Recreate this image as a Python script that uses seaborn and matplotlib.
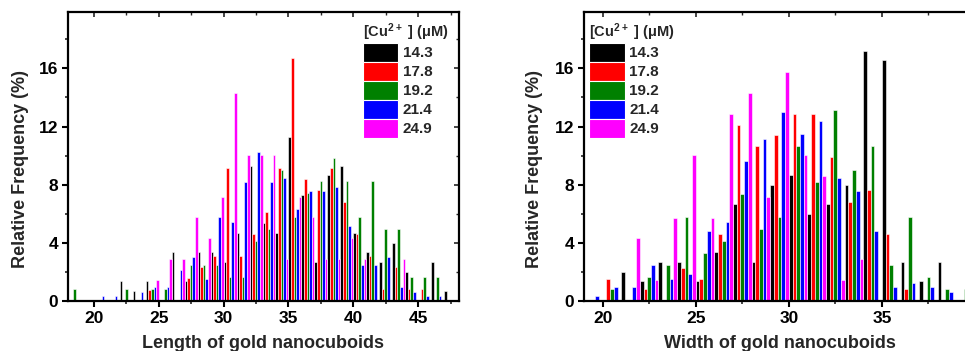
import numpy as np
import pandas as pd
import matplotlib
matplotlib.use("Agg")
import matplotlib.pyplot as plt
from matplotlib.ticker import MultipleLocator
import seaborn as sns

series = ["14.3", "17.8", "19.2", "21.4", "24.9"]
colors = ["#000000", "#ff0000", "#008000", "#0000ff", "#ff00ff"]

# ---- Length histogram (bins of width 1, lower edges 18..47) ----
length_bins = list(range(18, 48))
length_143 = [0, 0, 0, 0, 1.35, 0.67, 1.35, 0, 3.35, 1.37, 3.37, 3.37, 2.68, 4.68, 9.28,
              5.34, 4.68, 11.28, 7.31, 2.68, 8.64, 9.28, 4.68, 3.35, 2.68, 4.01, 2.02, 0, 2.68, 0.69]
length_178 = [0, 0, 0, 0, 0, 0, 0.78, 0, 0, 1.56, 2.34, 3.07, 9.13, 3.07, 4.58,
              6.10, 9.13, 16.69, 8.37, 7.61, 9.13, 6.83, 4.60, 3.07, 0.82, 2.32, 0.80, 0.80, 0, 0]
length_192 = [0.85, 0, 0, 0, 0.85, 0, 0.85, 0.85, 0, 2.47, 2.48, 2.48, 1.65, 1.65, 4.13,
              4.95, 9.03, 5.78, 7.40, 8.23, 9.86, 8.23, 5.75, 8.23, 4.95, 4.95, 1.65, 1.65, 1.65, 0]
length_214 = [0, 0, 0.32, 0.32, 0, 0.62, 0.94, 0.94, 2.13, 3.05, 1.53, 5.78, 5.43, 8.16, 10.27,
              8.16, 8.46, 6.35, 7.57, 7.57, 7.86, 5.16, 2.45, 2.45, 3.02, 0.96, 0.62, 0.34, 0.34, 0]
length_249 = [0, 0, 0, 0, 0, 0, 1.44, 2.87, 2.87, 5.75, 4.33, 7.15, 14.30, 10.02, 10.02,
              10.02, 2.87, 7.15, 5.75, 2.87, 2.87, 4.35, 2.87, 0, 0, 2.87, 0, 0, 0, 0]

# ---- Width histogram (bins of width 1, lower edges 19..39) ----
width_bins = list(range(19, 40))
width_143 = [0, 0, 1.99, 1.35, 2.68, 2.68, 1.35, 3.35, 6.67, 2.68, 7.98, 8.64, 6.00, 6.67,
             7.95, 17.21, 16.58, 2.68, 1.35, 2.68, 0]
width_178 = [0, 1.53, 0, 0.80, 0, 2.29, 1.53, 4.58, 12.13, 10.64, 11.40, 12.88, 12.88, 9.88,
             6.83, 7.61, 4.58, 0.80, 0, 0, 0]
width_192 = [0, 0.85, 0, 1.65, 2.45, 5.75, 3.30, 4.10, 7.38, 4.95, 5.75, 10.66, 8.20, 13.11,
             9.03, 10.66, 2.47, 5.75, 1.65, 0.85, 0.85]
width_214 = [0.34, 0.94, 0.94, 2.45, 1.53, 1.83, 4.84, 5.43, 9.65, 11.14, 12.98, 11.46, 12.38,
             8.46, 7.57, 4.84, 0.94, 1.24, 0.94, 0.64, 0]
width_249 = [0, 0, 4.33, 1.44, 5.73, 10.02, 5.73, 12.86, 14.30, 7.15, 15.73, 10.02, 8.60, 1.47,
             2.89, 0, 0, 0, 0, 0, 0]

x_ticks_len = [20, 25, 30, 35, 40, 45]
x_ticks_wid = [20, 25, 30, 35]
y_ticks = [0, 4, 8, 12, 16]


def long_frame(bins, cols):
    rows = []
    for s, vals in zip(series, cols):
        for b, v in zip(bins, vals):
            rows.append({"center": b + 0.5, "conc": s, "freq": v})
    return pd.DataFrame(rows)


df_len = long_frame(length_bins, [length_143, length_178, length_192, length_214, length_249])
df_wid = long_frame(width_bins, [width_143, width_178, width_192, width_214, width_249])

sns.set_theme(style="ticks")
plt.rcParams["font.family"] = ["Liberation Sans", "DejaVu Sans"]
plt.rcParams["font.weight"] = "bold"
plt.rcParams["axes.labelweight"] = "bold"
plt.rcParams["mathtext.fontset"] = "custom"
plt.rcParams["mathtext.rm"] = "Liberation Sans:bold"
plt.rcParams["mathtext.it"] = "Liberation Sans:bold"
plt.rcParams["mathtext.bf"] = "Liberation Sans:bold"

W, H = 965, 351
fig = plt.figure(figsize=(W / 100, H / 100), dpi=100)
ax1 = fig.add_axes([68 / W, 50 / H, 391 / W, 289.3 / H])
ax2 = fig.add_axes([584 / W, 50 / H, 391 / W, 289.3 / H])

palette = dict(zip(series, colors))

for ax, df, xlim, xt, xlabel, ylab_x, leg_x in [
    (ax1, df_len, (18, 48.15), x_ticks_len, "Length of gold nanocuboids", -0.101, 0.755),
    (ax2, df_wid, (19, 40), x_ticks_wid, "Width of gold nanocuboids", -0.105, 0.014),
]:
    sns.barplot(data=df, x="center", y="freq", hue="conc", hue_order=series,
                palette=palette, native_scale=True, width=1.0, errorbar=None,
                linewidth=0.4, edgecolor="white", saturation=1, ax=ax)
    ax.set_xlim(*xlim)
    ax.set_ylim(0, 19.9)
    ax.set_xticks(xt)
    ax.set_xticklabels([str(t) for t in xt])
    ax.xaxis.set_minor_locator(MultipleLocator(2.5))
    ax.set_yticks(y_ticks)
    ax.yaxis.set_minor_locator(MultipleLocator(2))
    ax.tick_params(axis="both", which="major", direction="out", length=4, width=1.5,
                   labelsize=12.5, pad=3, colors="black")
    ax.tick_params(axis="both", which="minor", direction="out", length=2.5, width=1.2)
    for sp in ax.spines.values():
        sp.set_visible(True)
        sp.set_linewidth(1.6)
        sp.set_color("black")
    # mirrored inward ticks on top and right
    top = ax.secondary_xaxis("top")
    top.set_xticks(xt)
    top.xaxis.set_minor_locator(MultipleLocator(2.5))
    top.tick_params(which="major", direction="in", length=3.5, width=1.2, labeltop=False)
    top.tick_params(which="minor", direction="in", length=2, width=1.0)
    right = ax.secondary_yaxis("right")
    right.set_yticks(y_ticks)
    right.yaxis.set_minor_locator(MultipleLocator(2))
    right.tick_params(which="major", direction="in", length=3.5, width=1.2, labelright=False)
    right.tick_params(which="minor", direction="in", length=2, width=1.0)
    for sp in list(top.spines.values()) + list(right.spines.values()):
        sp.set_visible(False)

    ax.set_xlabel(xlabel, fontsize=13, fontweight="bold", labelpad=6.5)
    ax.set_ylabel("Relative Frequency (%)", fontsize=13, fontweight="bold")
    ax.yaxis.set_label_coords(ylab_x, 0.456)

    sns.move_legend(ax, "upper left", bbox_to_anchor=(leg_x, 0.968), frameon=False,
                    title=r"[Cu$^{2+}$ ] (μM)", fontsize=11, title_fontsize=10.5,
                    handlelength=2.3, handleheight=1.536, labelspacing=0.0,
                    handletextpad=0.3, borderpad=0, borderaxespad=0,
                    alignment="left")
    leg = ax.get_legend()
    for t in leg.get_texts():
        t.set_fontweight("bold")
    leg.get_title().set_fontweight("bold")
    for h in leg.legend_handles:
        h.set_edgecolor("white")
        h.set_linewidth(0.8)

fig.savefig("out.png", dpi=100)
